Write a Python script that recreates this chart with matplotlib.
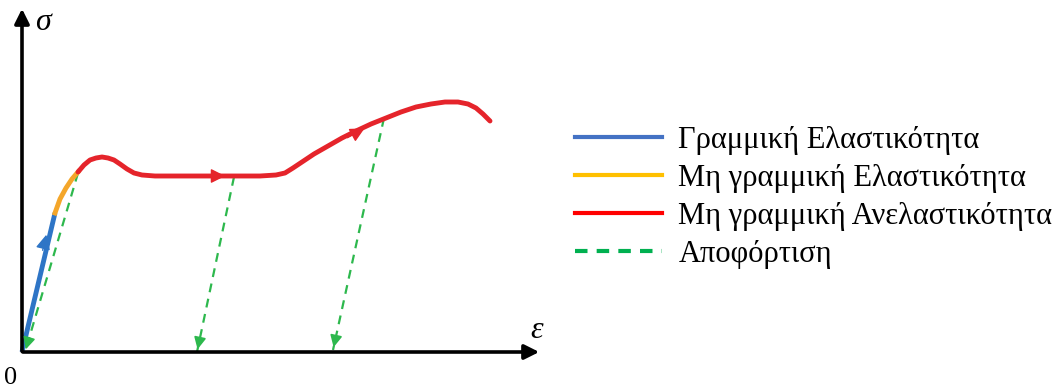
import matplotlib.pyplot as plt
from matplotlib.lines import Line2D

plt.rcParams['font.family'] = ['Liberation Serif', 'DejaVu Serif']

# curve points (pixel units, origin top-left)
blue_x = [22, 55]
blue_y = [352, 213]
orange_x = [55, 60, 66, 72, 78]
orange_y = [213, 199, 188, 179, 172]
red_x = [78, 84, 90, 96, 102, 108, 114, 120, 127, 134, 142, 155, 180, 220, 260, 276, 285,
         293, 302, 314, 328, 342, 356, 371, 386, 401, 416, 431, 445, 458, 468, 476, 483, 490]
red_y = [172, 165, 160, 158, 157, 158, 160, 164, 169, 173, 175, 176, 176, 176, 176, 175, 173,
         168, 162, 154, 146, 138, 131, 124, 118, 112, 107, 104, 102, 102, 104, 108, 114, 121]

# unloading paths: (start, end)
unload = [((78, 173), (25, 352)),
          ((234, 177), (197, 352)),
          ((384, 118), (333, 350))]

labels = ['Γραμμική Ελαστικότητα', 'Μη γραμμική Ελαστικότητα',
          'Μη γραμμική Ανελαστικότητα', 'Αποφόρτιση']

c_blue = '#2e75c6'
c_orange = '#f4a62a'
c_red = '#e5242b'
c_green = '#2db84d'

fig = plt.figure(figsize=(10.59, 3.87), dpi=100)
ax = fig.add_axes([0, 0, 1, 1])
ax.set_xlim(0, 1059)
ax.set_ylim(387, 0)
ax.axis('off')

# axes with arrows
ax.annotate('', xy=(22, 6), xytext=(22, 354),
            arrowprops=dict(arrowstyle='-|>', color='black', lw=2.6, mutation_scale=22))
ax.annotate('', xy=(542, 352), xytext=(20, 352),
            arrowprops=dict(arrowstyle='-|>', color='black', lw=2.6, mutation_scale=22))
ax.text(35, 22, 'σ', fontsize=23, style='italic', va='center', ha='left')
ax.text(530, 330, 'ε', fontsize=23, style='italic', va='center', ha='left')
ax.text(11, 378, '0', fontsize=19, va='center', ha='center')

# unloading dashed lines
for (x0, y0), (x1, y1) in unload:
    ax.plot([x0, x1], [y0, y1], color=c_green, lw=1.6, ls=(0, (4, 3)))
    dx, dy = x1 - x0, y1 - y0
    ax.annotate('', xy=(x1, y1), xytext=(x1 - dx * 0.05, y1 - dy * 0.05),
                arrowprops=dict(arrowstyle='-|>', color=c_green, lw=1.2, mutation_scale=18))

# loading curve
ax.plot(blue_x, blue_y, color=c_blue, lw=3.5, solid_capstyle='butt')
ax.plot(orange_x, orange_y, color=c_orange, lw=3.5)
ax.plot(red_x, red_y, color=c_red, lw=3.5, solid_capstyle='round')

# direction arrows
ax.annotate('', xy=(47, 232), xytext=(42, 253),
            arrowprops=dict(arrowstyle='-|>', color=c_blue, lw=1, mutation_scale=22))
ax.annotate('', xy=(228, 176), xytext=(200, 176),
            arrowprops=dict(arrowstyle='-|>', color=c_red, lw=1, mutation_scale=22))
ax.annotate('', xy=(367, 127), xytext=(345, 139),
            arrowprops=dict(arrowstyle='-|>', color=c_red, lw=1, mutation_scale=22))

handles = [Line2D([], [], color='#4472c4', lw=3),
           Line2D([], [], color='#ffc000', lw=3),
           Line2D([], [], color='#ff0000', lw=3),
           Line2D([], [], color='#00b050', lw=3, ls=(0, (3, 2.2)))]
fig.legend(handles, labels, loc='center left', bbox_to_anchor=(0.531, 0.49),
           frameon=False, fontsize=22, handlelength=2.85, handletextpad=0.55,
           labelspacing=0.3, borderaxespad=0)

fig.savefig('out.png', dpi=100)
